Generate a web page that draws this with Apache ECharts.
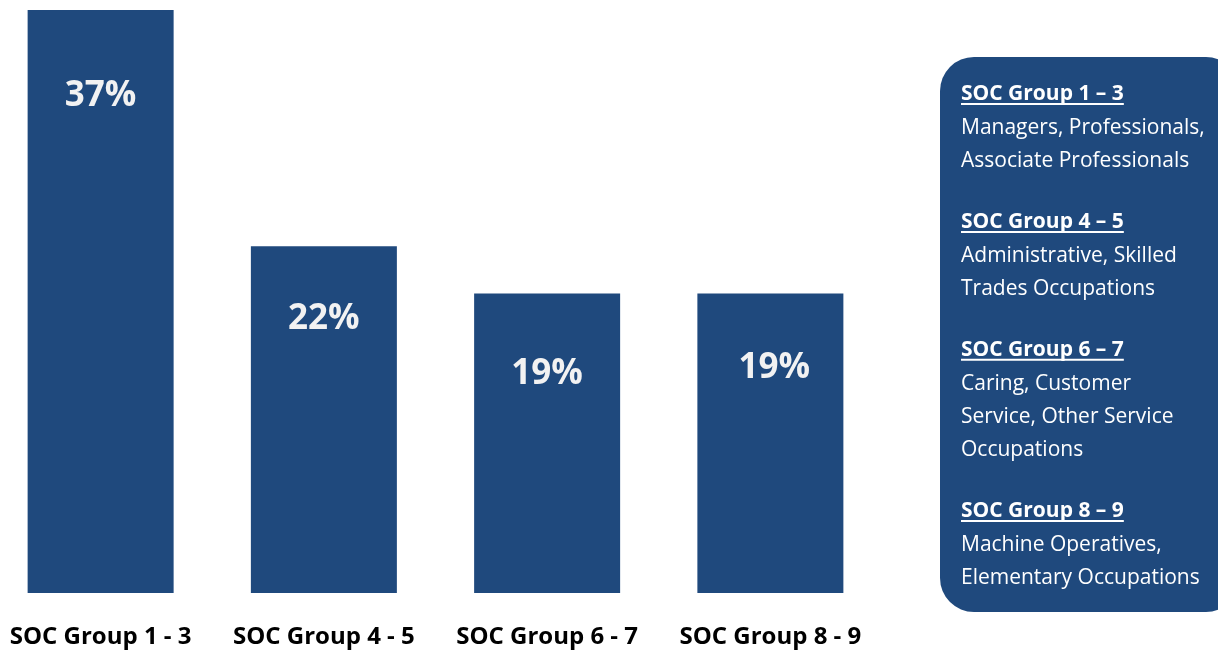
<!DOCTYPE html>
<html>
<head>
<meta charset="utf-8">
<script src="https://cdn.jsdelivr.net/npm/echarts@6/dist/echarts.min.js"></script>
<style>
  html, body { margin: 0; padding: 0; background: #fff; }
  #chart { width: 1218px; height: 650px; }
</style>
</head>
<body>
<div id="chart"></div>
<script>
// Share of workforce by SOC major group (bar values, %).
const categories = ['SOC Group 1 - 3', 'SOC Group 4 - 5', 'SOC Group 6 - 7', 'SOC Group 8 - 9'];
const shares = [37, 22, 19, 19];
// Side panel: group heading + description lines.
const legendHeads = ['SOC Group 1 \u2013 3', 'SOC Group 4 \u2013 5', 'SOC Group 6 \u2013 7', 'SOC Group 8 \u2013 9'];
const legendLines = [
  ['Managers, Professionals,', 'Associate Professionals'],
  ['Administrative, Skilled', 'Trades Occupations'],
  ['Caring, Customer', 'Service, Other Service', 'Occupations'],
  ['Machine Operatives,', 'Elementary Occupations'],
];

const BLUE = '#1f497d';
const FONT = '"Open Sans", sans-serif';
// label nudges so the % sits where the original put it
const labelOffsets = [[0, 0], [0, -14], [0, -6], [4, -12]];

// rounded panel + its text as graphic elements
const panel = [{
  type: 'rect', left: 940, top: 57, z: 0,
  shape: { width: 300, height: 555, r: 34 },
  style: { fill: BLUE },
}];
let y = 84;
const LH = 33.3;
legendHeads.forEach((h, i) => {
  panel.push({ type: 'text', left: 961, top: y, z: 2,
    style: { text: h, fill: '#fff', font: 'bold 21px ' + FONT } });
  // underline, width measured from the heading text
  const w = echarts.format.getTextRect
    ? echarts.format.getTextRect(h, 'bold 21px ' + FONT).width : 160;
  panel.push({
    type: 'rect', left: 961, top: y + 19, z: 2,
    shape: { width: w, height: 2 }, style: { fill: '#fff' },
  });
  y += LH;
  legendLines[i].forEach((t) => {
    panel.push({
      type: 'text', left: 961, top: y, z: 2,
      style: { text: t, fill: '#fff', font: '21px ' + FONT },
    });
    y += LH;
  });
  y += 28;
});

const chart = echarts.init(document.getElementById('chart'), null, { renderer: 'canvas' });
chart.setOption({
  animation: false,
  grid: { left: -11, top: 10, width: 893, bottom: 57, containLabel: false, outerBoundsMode: 'none' },
  xAxis: {
    type: 'category', data: categories,
    axisLine: { show: false }, axisTick: { show: false },
    axisLabel: { interval: 0, hideOverlap: false, color: '#000', fontFamily: FONT,
      fontWeight: 'bold', fontSize: 24, margin: 32 },
  },
  yAxis: { type: 'value', min: 0, max: 37, show: false, splitLine: { show: false } },
  series: [{
    type: 'bar', barWidth: 146,
    data: shares.map((v, i) => ({ value: v, label: { offset: labelOffsets[i] } })),
    itemStyle: { color: BLUE },
    label: {
      show: true, position: 'insideTop', distance: 69,
      formatter: (p) => p.value + '%',
      color: '#f2f2f2', fontFamily: FONT, fontWeight: 'bold', fontSize: 35,
    },
  }],
  graphic: panel,
});
</script>
</body>
</html>
